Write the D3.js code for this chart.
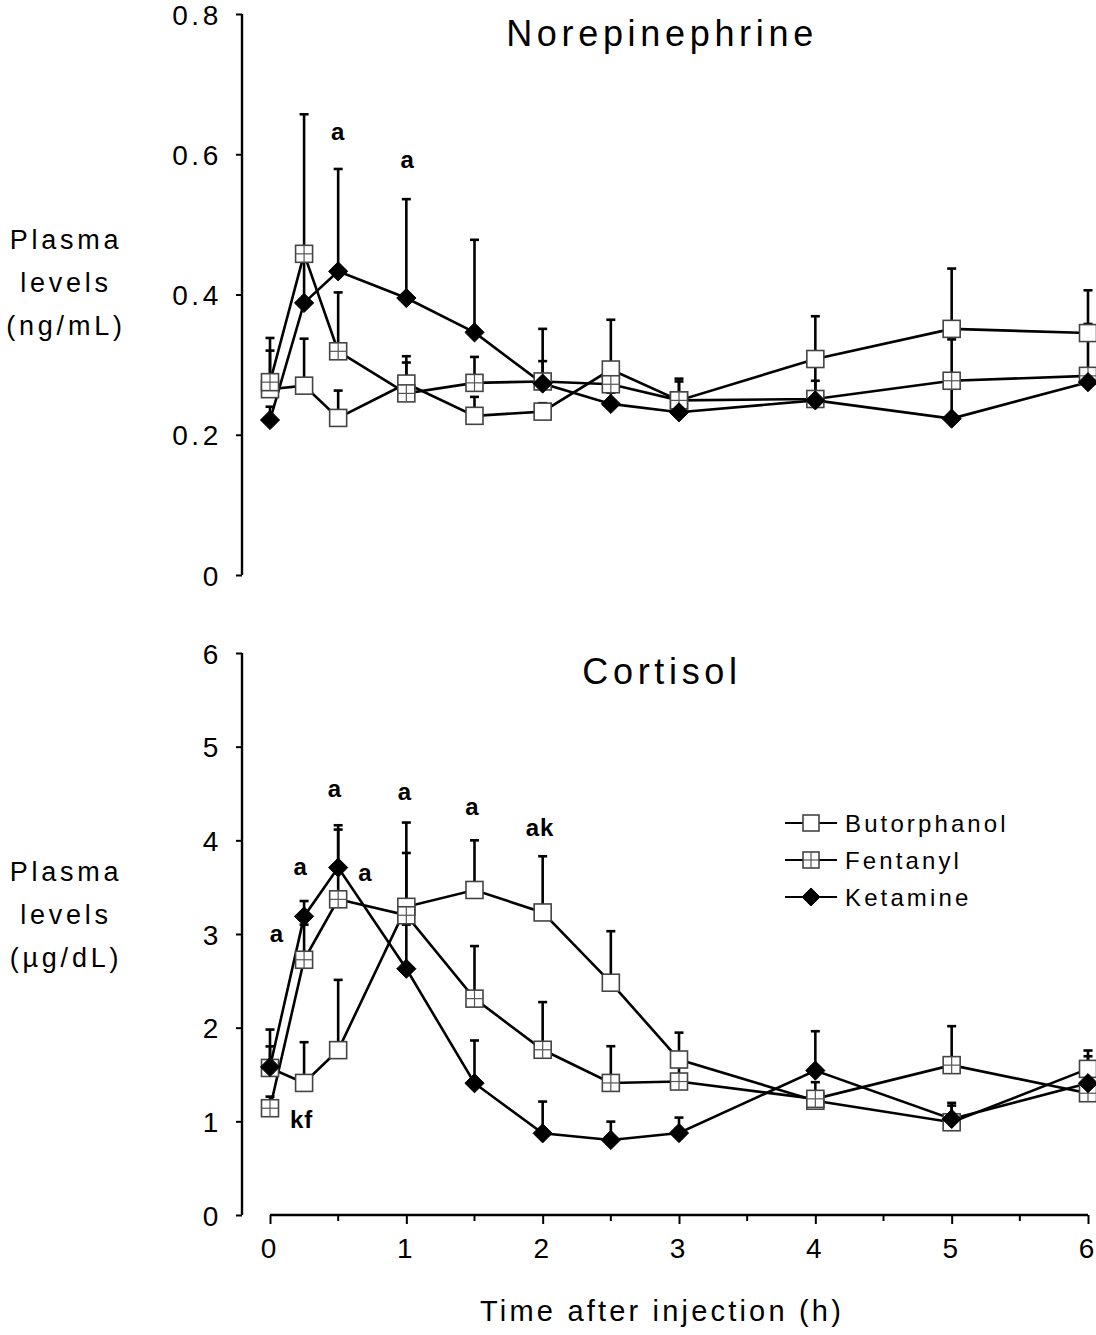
<!DOCTYPE html>
<html>
<head>
<meta charset="utf-8">
<script src="https://cdn.jsdelivr.net/npm/d3@7"></script>
<style>
  html, body { margin: 0; padding: 0; background: #fff; }
  svg { display: block; }
  text { font-family: "Liberation Sans", Arial, Helvetica, sans-serif; fill: #000; }
</style>
</head>
<body>
<svg id="chart" width="1096" height="1335"></svg>
<script>
// ---------- DATA ----------
const times = [0, 0.25, 0.5, 1, 1.5, 2, 2.5, 3, 4, 5, 6];
const seriesNames = ["Butorphanol", "Fentanyl", "Ketamine"];

// Norepinephrine (ng/mL): mean and mean+SD (upper end of error bar)
const butNE    = [0.265, 0.270, 0.224, 0.273, 0.227, 0.233, 0.293, 0.249, 0.308, 0.351, 0.345];
const butNEup  = [0.320, 0.337, 0.263, 0.312, 0.254, 0.245, 0.364, 0.276, 0.369, 0.437, 0.406];
const fenNE    = [0.275, 0.458, 0.319, 0.259, 0.274, 0.276, 0.272, 0.249, 0.251, 0.277, 0.284];
const fenNEup  = [0.338, 0.657, 0.403, 0.303, 0.311, 0.351, 0.290, 0.280, 0.300, 0.336, 0.358];
const ketNE    = [0.221, 0.388, 0.433, 0.395, 0.346, 0.273, 0.244, 0.232, 0.249, 0.223, 0.275];
const ketNEup  = [0.240, 0.455, 0.579, 0.536, 0.478, 0.305, 0.260, 0.245, 0.277, 0.270, 0.290];

// Cortisol (µg/dL)
const butCort   = [1.57, 1.41, 1.76, 3.29, 3.47, 3.23, 2.48, 1.66, 1.22, 0.99, 1.56];
const butCortUp = [1.98, 1.845, 2.51, 4.19, 4.00, 3.83, 3.03, 1.947, 1.30, 1.197, 1.756];
const fenCort   = [1.14, 2.725, 3.37, 3.20, 2.31, 1.764, 1.41, 1.425, 1.24, 1.60, 1.30];
const fenCortUp = [1.264, 3.10, 4.115, 3.865, 2.871, 2.273, 1.802, 1.60, 1.418, 2.016, 1.695];
const ketCort   = [1.58, 3.188, 3.709, 2.629, 1.407, 0.872, 0.801, 0.875, 1.542, 1.026, 1.407];
const ketCortUp = [1.80, 3.352, 4.161, 3.10, 1.863, 1.211, 0.997, 1.040, 1.962, 1.168, 1.50];

// Tick labels
const xTicks = [0, 1, 2, 3, 4, 5, 6];
const xMinorTicks = [0.5, 1.5, 2.5, 3.5, 4.5, 5.5];
const neTicks = [0, 0.2, 0.4, 0.6, 0.8];
const cortTicks = [0, 1, 2, 3, 4, 5, 6];

// Significance annotations: [time, value, text]
const neNotes = [[0.5, 0.632, "a"], [1.01, 0.593, "a"]];
const cortNotes = [
  [0.05, 3.01, "a"], [0.225, 3.72, "a"], [0.477, 4.55, "a"], [0.70, 3.66, "a"],
  [0.99, 4.52, "a"], [1.484, 4.36, "a"], [1.98, 4.14, "ak"], [0.232, 1.015, "kf"]
];

// ---------- DRAWING ----------
const svg = d3.select("#chart");
const LS = "0.13em";

const x = d3.scaleLinear().domain([0, 6]).range([270, 1088]);
const yNE = d3.scaleLinear().domain([0, 0.8]).range([575, 14]);
const yC = d3.scaleLinear().domain([0, 6]).range([1215, 653]);

const SQ = 17;   // square marker size
const DI = 9.6;  // diamond half-diagonal

function drawMarker(g, kind, cx, cy, size) {
  const s = size || SQ;
  if (kind === "Ketamine") {
    const d = s * DI / SQ;
    g.append("path")
      .attr("d", `M${cx},${cy - d}L${cx + d},${cy}L${cx},${cy + d}L${cx - d},${cy}Z`)
      .attr("fill", "#000").attr("stroke", "#000").attr("stroke-width", 1);
  } else {
    g.append("rect")
      .attr("x", cx - s / 2).attr("y", cy - s / 2)
      .attr("width", s).attr("height", s)
      .attr("fill", "#fff").attr("stroke", "#444").attr("stroke-width", 1.6);
    if (kind === "Fentanyl") {
      g.append("line").attr("x1", cx - s / 2).attr("x2", cx + s / 2)
        .attr("y1", cy).attr("y2", cy).attr("stroke", "#555").attr("stroke-width", 1.2);
      g.append("line").attr("x1", cx).attr("x2", cx)
        .attr("y1", cy - s / 2).attr("y2", cy + s / 2).attr("stroke", "#555").attr("stroke-width", 1.2);
    }
  }
}

function drawPanel(y, series, ticks, fmt, title, titleY, labelLines, labelYs, notes) {
  const g = svg.append("g");
  // y axis
  const axis = d3.axisLeft(y).tickValues(ticks).tickFormat(fmt).tickSize(6).tickPadding(14);
  const ga = g.append("g").attr("transform", "translate(242,0)").call(axis);
  ga.select(".domain").attr("stroke", "#000").attr("stroke-width", 2.4)
    .attr("d", `M0,${y.range()[0]}V${y.range()[1]}`);
  ga.selectAll(".tick line").attr("stroke", "#000").attr("stroke-width", 2);
  ga.selectAll(".tick text")
    .style("font-family", '"Liberation Sans", Arial, sans-serif')
    .style("font-size", "28px").style("letter-spacing", LS).attr("fill", "#000")
    .attr("dy", "0.36em");

  // title
  g.append("text").attr("x", 662).attr("y", titleY)
    .attr("text-anchor", "middle").attr("dominant-baseline", "central")
    .style("font-size", "36px").style("letter-spacing", LS).text(title);

  // y label
  labelLines.forEach((t, i) => {
    g.append("text").attr("x", 66).attr("y", labelYs[i])
      .attr("text-anchor", "middle").attr("dominant-baseline", "central")
      .style("font-size", "27px").style("letter-spacing", "0.14em").text(t);
  });

  const line = d3.line().x((d, i) => x(times[i])).y(d => y(d));

  // lines
  series.forEach(s => {
    g.append("path").datum(s.mean).attr("d", line)
      .attr("fill", "none").attr("stroke", "#000").attr("stroke-width", 2.6);
  });
  // error bars (upper)
  series.forEach(s => {
    s.mean.forEach((m, i) => {
      const cx = x(times[i]);
      g.append("line").attr("x1", cx).attr("x2", cx)
        .attr("y1", y(m)).attr("y2", y(s.up[i]))
        .attr("stroke", "#000").attr("stroke-width", 2.6);
      g.append("line").attr("x1", cx - 4.5).attr("x2", cx + 4.5)
        .attr("y1", y(s.up[i])).attr("y2", y(s.up[i]))
        .attr("stroke", "#000").attr("stroke-width", 2.6);
    });
  });
  // markers
  series.forEach(s => {
    s.mean.forEach((m, i) => drawMarker(g, s.name, x(times[i]), y(m)));
  });
  // annotations
  notes.forEach(n => {
    g.append("text").attr("x", x(n[0])).attr("y", y(n[1]))
      .attr("text-anchor", "middle").attr("dominant-baseline", "central")
      .style("font-size", "24px").style("font-weight", "bold").style("letter-spacing", "0.04em")
      .text(n[2]);
  });
  return g;
}

drawPanel(yNE, [
    { name: "Butorphanol", mean: butNE, up: butNEup },
    { name: "Fentanyl", mean: fenNE, up: fenNEup },
    { name: "Ketamine", mean: ketNE, up: ketNEup }
  ], neTicks, d => d === 0 ? "0" : d3.format(".1f")(d),
  "Norepinephrine", 33, ["Plasma", "levels", "(ng/mL)"], [240, 283, 326], neNotes);

drawPanel(yC, [
    { name: "Butorphanol", mean: butCort, up: butCortUp },
    { name: "Fentanyl", mean: fenCort, up: fenCortUp },
    { name: "Ketamine", mean: ketCort, up: ketCortUp }
  ], cortTicks, d3.format("d"),
  "Cortisol", 671, ["Plasma", "levels", "(\u00b5g/dL)"], [872, 915, 958], cortNotes);

// x axis (bottom panel)
const xa = svg.append("g").attr("transform", `translate(0,${yC(0)})`)
  .call(d3.axisBottom(x).tickValues(xTicks).tickFormat(d3.format("d")).tickSize(9).tickPadding(14));
xa.select(".domain").attr("stroke", "#000").attr("stroke-width", 2.6)
  .attr("d", `M${x(0)},0H${x(6)}`);
xa.selectAll(".tick line").attr("stroke", "#000").attr("stroke-width", 2);
xa.selectAll(".tick text")
  .style("font-family", '"Liberation Sans", Arial, sans-serif')
  .style("font-size", "28px").attr("fill", "#000").attr("dx", "-2");
xa.selectAll(".minor").data(xMinorTicks).enter().append("line")
  .attr("x1", d => x(d)).attr("x2", d => x(d)).attr("y1", 0).attr("y2", 6)
  .attr("stroke", "#000").attr("stroke-width", 2);

svg.append("text").attr("x", 662).attr("y", 1311)
  .attr("text-anchor", "middle").attr("dominant-baseline", "central")
  .style("font-size", "29px").style("letter-spacing", "0.11em").text("Time after injection (h)");

// legend
const lg = svg.append("g");
const legY = [823, 860, 897];
seriesNames.forEach((nm, i) => {
  lg.append("line").attr("x1", 785).attr("x2", 837).attr("y1", legY[i]).attr("y2", legY[i])
    .attr("stroke", "#000").attr("stroke-width", 2.2);
  drawMarker(lg, nm, 811, legY[i], 16);
  lg.append("text").attr("x", 845).attr("y", legY[i])
    .attr("dominant-baseline", "central")
    .style("font-size", "24px").style("letter-spacing", LS).text(nm);
});
</script>
</body>
</html>
